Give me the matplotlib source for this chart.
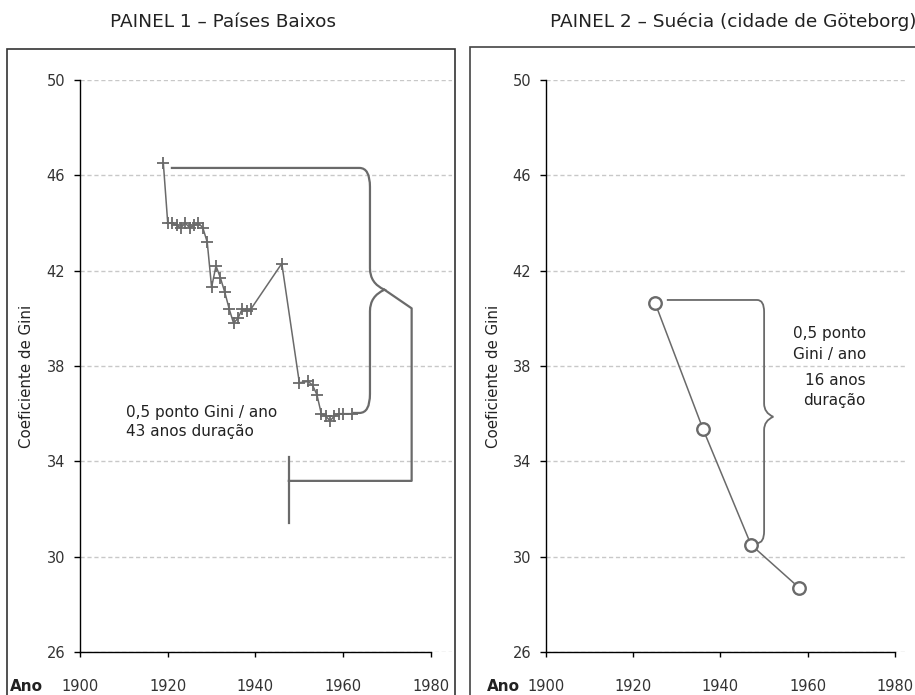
import matplotlib
matplotlib.use("Agg")
import matplotlib.pyplot as plt
from matplotlib.path import Path
from matplotlib.patches import PathPatch, Rectangle

plt.rcParams['font.family'] = ['DejaVu Sans']

# Painel 1 - Paises Baixos
nl_years = [1919, 1920, 1921, 1922, 1923, 1924, 1925, 1926, 1927, 1928,
            1929, 1930, 1931, 1932, 1933, 1934, 1935, 1936, 1937, 1938,
            1939, 1946, 1950, 1952, 1953, 1954, 1955, 1956, 1957, 1958,
            1959, 1960, 1962]
nl_gini = [46.5, 44.0, 44.0, 43.9, 43.8, 44.0, 43.8, 43.9, 44.0, 43.8,
           43.2, 41.3, 42.2, 41.7, 41.1, 40.4, 39.8, 40.0, 40.4, 40.3,
           40.4, 42.3, 37.3, 37.35, 37.2, 36.8, 36.0, 35.9, 35.7, 35.9,
           36.0, 36.0, 36.0]

# Painel 2 - Suecia (Goteborg)
se_years = [1925, 1936, 1947, 1958]
se_gini = [40.65, 35.35, 30.5, 28.7]

y_ticks = [26, 30, 34, 38, 42, 46, 50]
x_ticks = [1900, 1920, 1940, 1960, 1980]

grey = '#6a6a6a'
W, H = 915, 695

fig = plt.figure(figsize=(9.15, 6.95), dpi=100)


def brace(ax, x0, y_top, xb, y_bot, x1, xt, yt, cx, cy, ty, lw):
    # chave: braco de cima, ponta e braco de baixo
    verts = [(x0, y_top), (xb - cx, y_top),
             (xb, y_top), (xb, y_top - cy),
             (xb, yt + ty),
             (xb, yt + ty * 0.3), (xt, yt),
             (xb, yt - ty * 0.3), (xb, yt - ty),
             (xb, y_bot + cy),
             (xb, y_bot), (xb - cx, y_bot),
             (x1, y_bot)]
    codes = [Path.MOVETO, Path.LINETO, Path.CURVE3, Path.CURVE3, Path.LINETO,
             Path.CURVE3, Path.CURVE3, Path.CURVE3, Path.CURVE3, Path.LINETO,
             Path.CURVE3, Path.CURVE3, Path.LINETO]
    ax.add_patch(PathPatch(Path(verts, codes), fill=False, ec=grey, lw=lw,
                           capstyle='butt', joinstyle='miter', clip_on=False))


def setup(ax, xmax):
    ax.set_xlim(1900, xmax)
    ax.set_ylim(26, 50)
    ax.set_xticks(x_ticks)
    ax.set_yticks(y_ticks)
    ax.spines['top'].set_visible(False)
    ax.spines['right'].set_visible(False)
    ax.spines['bottom'].set_bounds(1900, 1980)
    ax.spines['left'].set_bounds(26, 50)
    for s in ['left', 'bottom']:
        ax.spines[s].set_linewidth(1.0)
    ax.tick_params(axis='y', length=4.3, width=1.0, pad=6.5, labelsize=10.5,
                   labelcolor='#333333')
    ax.tick_params(axis='x', length=3.6, width=1.0, pad=16, labelsize=10.5,
                   labelcolor='#333333')
    ax.yaxis.grid(True, color='#c8c8c8', lw=1.0, ls=(0, (3, 2)))
    ax.set_axisbelow(True)


ax1 = fig.add_axes([80 / W, 43 / H, 372 / W, 572 / H])
ax2 = fig.add_axes([546 / W, 43 / H, 359 / W, 572 / H])
setup(ax1, 1984.8)
setup(ax2, 1982.3)

# painel 1
ax1.plot(nl_years, nl_gini, color=grey, lw=1.1, marker='+', ms=9, mew=1.3,
         clip_on=False)
brace(ax1, 1920.7, 46.31, 1966.1, 36.03, 1962.2, 1969.4, 41.2,
      2.4, 0.8, 0.9, 1.6)
ax1.plot([1969.4, 1975.6, 1975.6, 1947.6], [41.2, 40.42, 33.18, 33.18],
         color=grey, lw=1.6, clip_on=False)
ax1.plot([1947.6, 1947.6], [34.2, 31.4], color=grey, lw=1.6)
ax1.text(1910.6, 35.87, '0,5 ponto Gini / ano', fontsize=11, color='#222222')
ax1.text(1910.6, 35.06, '43 anos duração', fontsize=11, color='#222222')

# painel 2
ax2.plot(se_years, se_gini, color=grey, lw=1.1, marker='o', ms=9, mfc='white',
         mec=grey, mew=1.7, clip_on=False, zorder=3)
brace(ax2, 1927.7, 40.77, 1950.0, 30.57, 1947.4, 1952.1, 35.87,
      1.6, 0.5, 0.55, 1.3)
for txt, yv in [('0,5 ponto', 39.16), ('Gini / ano', 38.28),
                ('16 anos', 37.20), ('duração', 36.36)]:
    ax2.text(1973.35, yv, txt, fontsize=11, ha='right', color='#222222')

# titulos, rotulos e molduras
fig.text(223.5 / W, 1 - 27 / H, 'PAINEL 1 – Países Baixos', fontsize=13.3,
         ha='center', va='baseline', color='#222222')
fig.text(733 / W, 1 - 27 / H, 'PAINEL 2 – Suécia (cidade de Göteborg)',
         fontsize=13.3, ha='center', va='baseline', color='#222222')
for xl in [27, 493]:
    fig.text(xl / W, 1 - 376 / H, 'Coeficiente de Gini', fontsize=10.8,
             rotation=90, ha='center', va='center', color='#222222')
for xa in [10, 487]:
    fig.text(xa / W, 1 - 690.7 / H, 'Ano', fontsize=11, fontweight='bold',
             ha='left', va='baseline', color='#222222')

fig.patches.append(Rectangle((7.3 / W, -0.1), 447.7 / W, 0.929 + 0.1,
                             fill=False, ec='#333333', lw=1.2,
                             transform=fig.transFigure))
fig.patches.append(Rectangle((470 / W, -0.1), 0.6, 0.932 + 0.1,
                             fill=False, ec='#444444', lw=1.2,
                             transform=fig.transFigure))

fig.savefig('out.png', dpi=100)
